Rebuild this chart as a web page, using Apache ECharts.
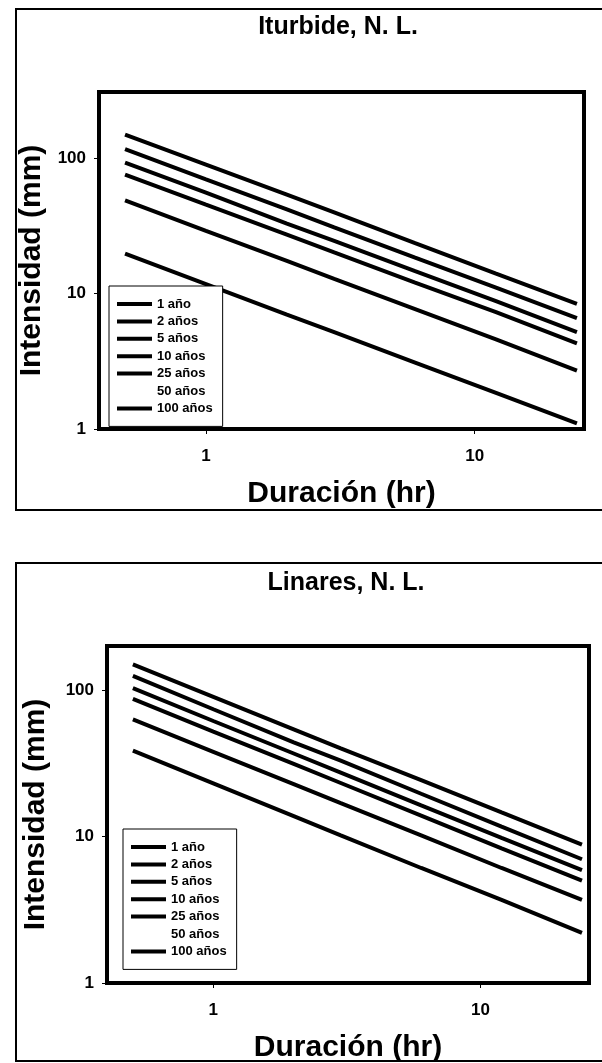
<!DOCTYPE html>
<html>
<head>
<meta charset="utf-8">
<script src="https://cdn.jsdelivr.net/npm/echarts@6/dist/echarts.min.js"></script>
<style>
  html, body { margin: 0; padding: 0; background: #fff; }
  #chart { width: 602px; height: 1063px; }
</style>
</head>
<body>
<div id="chart"></div>
<script>
// duraciones (hr) y periodos de retorno
const duraciones = [0.5, 1, 2, 3, 6, 12, 24]
const periodos = ['1 año', '2 años', '5 años', '10 años', '25 años', '50 años', '100 años']

// Iturbide, N. L. - intensidad (mm)
const iturbide1 = [19.8, 11.8, 7.0, 5.2, 3.1, 1.85, 1.1]
const iturbide2 = [49, 29.2, 17.5, 12.9, 7.7, 4.6, 2.7]
const iturbide5 = [76, 45.5, 27.3, 20.2, 12.1, 7.3, 4.3]
const iturbide10 = [93, 56, 33, 24.6, 14.7, 8.8, 5.2]
const iturbide25 = [117, 70, 42, 31, 18.5, 11.1, 6.6]
const iturbide50 = []
const iturbide100 = [150, 90, 54, 40, 23.7, 14.1, 8.4]

// Linares, N. L. - intensidad (mm)
const linares1 = [38.6, 23.1, 13.8, 10.2, 6.1, 3.7, 2.2]
const linares2 = [63, 37.9, 22.8, 16.9, 10.2, 6.1, 3.7]
const linares5 = [87, 52, 31.3, 23.2, 13.9, 8.3, 5.0]
const linares10 = [103, 61.5, 36.9, 27.3, 16.3, 9.8, 5.9]
const linares25 = [125, 74, 44, 33, 19.6, 11.7, 7.0]
const linares50 = []
const linares100 = [150, 90, 54, 40, 24.3, 14.6, 8.8]

const xTicks = [1, 10]
const yTicks = [1, 10, 100]

const iturbide = [iturbide1, iturbide2, iturbide5, iturbide10, iturbide25, iturbide50, iturbide100]
const linares = [linares1, linares2, linares5, linares10, linares25, linares50, linares100]

const FONT = "'Liberation Sans', Arial, sans-serif"

// solo mostrar etiquetas en potencias de 10
const onlyTicks = (list) => (v) => {
  const hit = list.find(t => Math.abs(t - v) / t < 1e-6)
  return hit ? String(hit) : ''
}

const makeSeries = (sets, idx) => sets.map((vals, k) => {
  const hidden = periodos[k] === '50 años'
  const color = hidden ? 'rgba(0,0,0,0)' : '#000'
  return {
    name: periodos[k],
    type: 'line',
    xAxisIndex: idx,
    yAxisIndex: idx,
    showSymbol: false,
    symbol: 'none',
    silent: true,
    data: vals.map((v, j) => [duraciones[j], v]),
    lineStyle: { color, width: 4 },
    itemStyle: { color }
  }
})

const xAxisBase = (min, max) => ({
  type: 'log',
  logBase: 10,
  min,
  max,
  name: 'Duración (hr)',
  nameLocation: 'middle',
  nameGap: 50,
  nameTextStyle: { fontFamily: FONT, fontWeight: 'bold', fontSize: 30, color: '#000' },
  axisLine: { show: false },
  axisTick: { show: true, length: 5, customValues: xTicks, lineStyle: { color: '#000', width: 1 } },
  splitLine: { show: false },
  axisLabel: {
    formatter: onlyTicks(xTicks),
    margin: 19,
    fontFamily: FONT,
    fontWeight: 'bold',
    fontSize: 17,
    color: '#000'
  }
})

const yAxisBase = (max, gap) => ({
  type: 'log',
  logBase: 10,
  min: 1,
  max,
  name: 'Intensidad (mm)',
  nameLocation: 'middle',
  nameGap: gap,
  nameTextStyle: { fontFamily: FONT, fontWeight: 'bold', fontSize: 30, color: '#000' },
  axisLine: { show: false },
  axisTick: { show: true, length: 5, customValues: yTicks, lineStyle: { color: '#000', width: 1 } },
  splitLine: { show: false },
  axisLabel: {
    formatter: onlyTicks(yTicks),
    margin: 13,
    fontFamily: FONT,
    fontWeight: 'bold',
    fontSize: 17,
    color: '#000'
  }
})

const legendBase = (left, top, padding) => ({
  orient: 'vertical',
  left,
  top,
  padding,
  selectedMode: false,
  backgroundColor: '#fff',
  borderColor: '#000',
  borderWidth: 1,
  borderRadius: 0,
  icon: 'rect',
  itemWidth: 35,
  itemHeight: 4,
  itemGap: 3.4,
  data: periodos,
  textStyle: { fontFamily: FONT, fontWeight: 'bold', fontSize: 13, lineHeight: 14, color: '#000' }
})

const chart = echarts.init(document.getElementById('chart'), null, { renderer: 'canvas' })

chart.setOption({
  animation: false,
  backgroundColor: '#fff',
  graphic: [
    { type: 'rect', shape: { x: 16, y: 9, width: 600, height: 501 }, style: { fill: 'none', stroke: '#000', lineWidth: 2 }, silent: true },
    { type: 'rect', shape: { x: 16, y: 563, width: 600, height: 498 }, style: { fill: 'none', stroke: '#000', lineWidth: 2 }, silent: true },
    { type: 'text', x: 338, y: 27, style: { text: 'Iturbide, N. L.', font: `bold 25px ${FONT}`, fill: '#000', textAlign: 'center', textVerticalAlign: 'middle' }, silent: true },
    { type: 'text', x: 346, y: 583, style: { text: 'Linares, N. L.', font: `bold 25px ${FONT}`, fill: '#000', textAlign: 'center', textVerticalAlign: 'middle' }, silent: true }
  ],
  grid: [
    { left: 99, top: 92, width: 485, height: 337, show: true, borderColor: '#000', borderWidth: 4, backgroundColor: 'transparent', outerBoundsMode: 'none' },
    { left: 107, top: 646, width: 482, height: 337, show: true, borderColor: '#000', borderWidth: 4, backgroundColor: 'transparent', outerBoundsMode: 'none' }
  ],
  xAxis: [
    { ...xAxisBase(0.4, 25.5), gridIndex: 0 },
    { ...xAxisBase(0.4, 25.5), gridIndex: 1 }
  ],
  yAxis: [
    { ...yAxisBase(310, 50), gridIndex: 0 },
    { ...yAxisBase(200, 56), gridIndex: 1 }
  ],
  legend: [
    legendBase(109, 286, [11, 10, 11, 8]),
    legendBase(123, 829, [11, 10, 11, 8])
  ],
  series: [...makeSeries(iturbide, 0), ...makeSeries(linares, 1)]
})
</script>
</body>
</html>
